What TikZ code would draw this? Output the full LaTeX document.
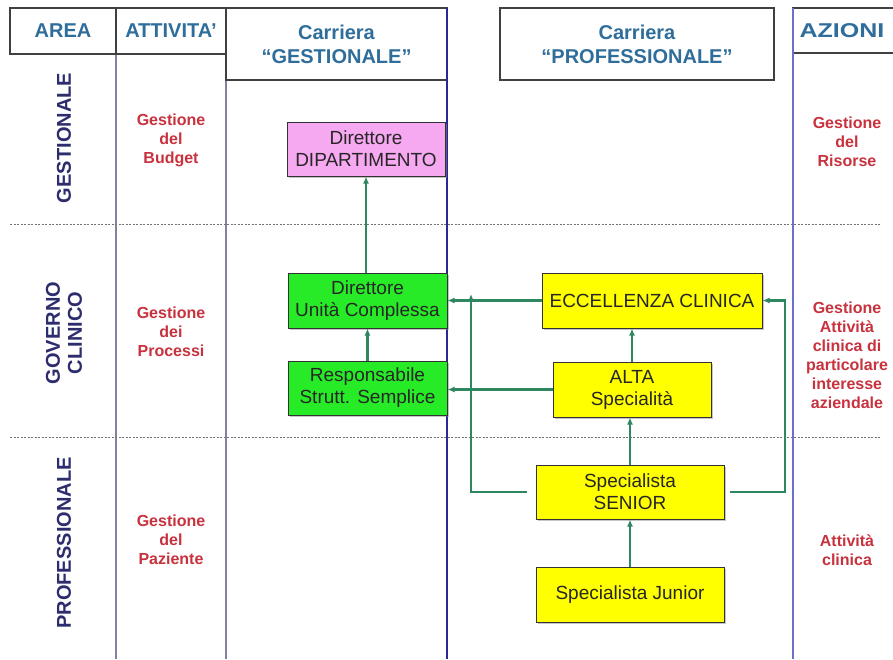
\documentclass[tikz,border=0pt]{standalone}
\usepackage{fontspec}
\setmainfont{Liberation Sans}
\usetikzlibrary{arrows.meta,shadows,calc}
\definecolor{hdrblue}{RGB}{47,109,155}
\definecolor{navytxt}{RGB}{45,45,110}
\definecolor{redtxt}{RGB}{200,50,62}
\definecolor{conngreen}{RGB}{46,135,95}
\definecolor{pinkbox}{RGB}{246,168,240}
\definecolor{greenbox}{RGB}{40,235,40}
\definecolor{yellowbox}{RGB}{255,255,0}
\definecolor{gridgray}{RGB}{130,130,160}
\definecolor{lineblue}{RGB}{40,40,150}
\definecolor{lineblueb}{RGB}{110,110,205}
\begin{document}
\begin{tikzpicture}[x=1pt,y=-1pt,
 hdrbox/.style={draw=black!75, line width=1.2pt, fill=white, inner sep=0pt,
   drop shadow={shadow xshift=1pt,shadow yshift=-1pt,fill=black!35}},
 hdr/.style={text=hdrblue, font=\fontsize{20}{24}\selectfont\bfseries, align=center},
 side/.style={text=navytxt, font=\fontsize{20}{22}\selectfont\bfseries, align=center, rotate=90},
 act/.style={text=redtxt, font=\fontsize{16}{19}\selectfont\bfseries, align=center},
 career/.style={draw=black!80, line width=1pt, align=center, inner sep=0pt,
   font=\fontsize{19}{22}\selectfont, text=black!85,
   drop shadow={shadow xshift=1.5pt,shadow yshift=-1.5pt,fill=black!45}},
 link/.style={draw=conngreen, line width=2.5pt, -{Latex[length=7pt,width=6pt]}},
 grid/.style={draw=gridgray, line width=1.6pt},
 sep/.style={draw=black!55, line width=1pt, dash pattern=on 2pt off 1.5pt},
]
\useasboundingbox (0,0) rectangle (893,659);
\fill[white] (0,0) rectangle (893,659);

% grid lines
\draw[grid] (116,8) -- (116,659);
\draw[grid] (226,8) -- (226,659);
\draw[sep] (10,224) -- (880,224);
\draw[sep] (10,437) -- (880,437);

% header boxes
\node[hdrbox, hdr, minimum width=106pt, minimum height=46pt] (area) at (63,31) {AREA};
\node[hdrbox, hdr, minimum width=110pt, minimum height=46pt] (attiv) at (171,31) {ATTIVITA'};
\node[hdrbox, hdr, minimum width=221pt, minimum height=72pt] (cgest) at (336.5,44) {Carriera\\“GESTIONALE”};
\node[hdrbox, hdr, minimum width=274pt, minimum height=72pt] (cprof) at (637,44) {Carriera\\“PROFESSIONALE”};
\node[hdrbox, minimum width=110pt, minimum height=45pt] (azbox) at (848,30.5) {};
\node[hdr] (azioni) at (842,31) {\scalebox{1.25}[1]{AZIONI}};

% blue column lines
\draw[lineblue, line width=1.5pt] (447,8) -- (447,659);
\draw[lineblueb, line width=1.5pt] (793,8) -- (793,659);

% area labels
\node[side] (sg) at (64,138) {GESTIONALE};
\node[side] (sgc) at (64,333) {GOVERNO\\CLINICO};
\node[side] (sp) at (64,543) {PROFESSIONALE};

% activity labels
\node[act] (a1) at (171,140) {Gestione\\del\\Budget};
\node[act] (a2) at (171,332) {Gestione\\dei\\Processi};
\node[act] (a3) at (171,540) {Gestione\\del\\Paziente};
\node[act] (z1) at (847,142) {Gestione\\del\\Risorse};
\node[act] (z2) at (847,355) {Gestione\\Attività\\clinica di\\particolare\\interesse\\aziendale};
\node[act] (z3) at (847,550) {Attività\\clinica};

% career boxes
\node[career, fill=pinkbox, minimum width=158pt, minimum height=54pt] (dd) at (366,149) {Direttore\\DIPARTIMENTO};
\node[career, fill=greenbox, minimum width=159pt, minimum height=55pt] (duc) at (367.5,300.5) {Direttore\\Unità Complessa};
\node[career, fill=greenbox, minimum width=159pt, minimum height=54pt] (rss) at (367.5,388) {Responsabile\\Strutt. Semplice};
\node[career, fill=yellowbox, minimum width=220pt, minimum height=55pt] (ecc) at (652,300.5) {ECCELLENZA CLINICA};
\node[career, fill=yellowbox, minimum width=158pt, minimum height=55pt] (alta) at (632,389.5) {ALTA\\Specialità};
\node[career, fill=yellowbox, minimum width=188pt, minimum height=54pt] (senior) at (630,492) {Specialista\\SENIOR};
\node[career, fill=yellowbox, minimum width=188pt, minimum height=55pt] (junior) at (630,594.5) {Specialista Junior};

% connectors
\draw[link] (duc.north -| dd.south) -- (dd.south);
\draw[link] (rss) -- (duc);
\draw[link] (ecc.west) -- (ecc.west -| duc.east);
\draw[link] (alta.west) -- (alta.west -| rss.east);
\draw[link] (junior) -- (senior);
\draw[link] (senior.north) -- (senior.north |- alta.south);
\draw[link] (alta.north) -- (alta.north |- ecc.south);
\coordinate (jl) at (471,294);
\coordinate (jr) at (785,300.5);
\draw[link] ([xshift=-9pt]senior.west) -| (jl);
\draw[link] ([xshift=5pt]senior.east) -| (jr) -- (ecc.east);
\end{tikzpicture}
\end{document}
